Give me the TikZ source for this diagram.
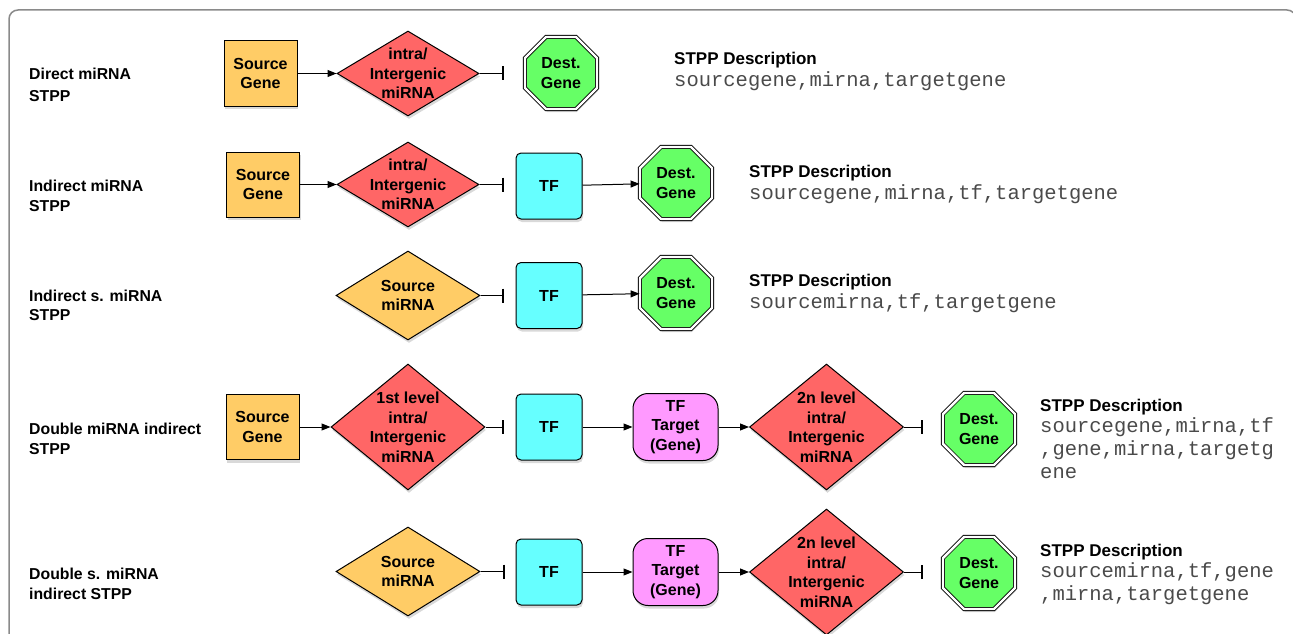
\documentclass[tikz,border=0pt]{standalone}
\usepackage{fontspec}
\setmainfont{Liberation Sans}
\setmonofont{Liberation Mono}
\usetikzlibrary{shapes.geometric,shadows,arrows.meta}
\definecolor{cgene}{HTML}{FFCC66}
\definecolor{cmir}{HTML}{FF6666}
\definecolor{cdest}{HTML}{66FF66}
\definecolor{ctf}{HTML}{66FFFF}
\definecolor{ctgt}{HTML}{FF99FF}
\definecolor{cmono}{HTML}{4A4A4A}
\definecolor{cframe}{HTML}{8A8A8A}
\begin{document}
\begin{tikzpicture}[x=1pt,y=-1pt,
  shade/.style={drop shadow={shadow xshift=1pt,shadow yshift=-3pt,opacity=0.3}},
  nodefont/.style={font=\fontsize{16}{19.5}\selectfont\bfseries,align=center},
  genebox/.style={draw,line width=1pt,fill=cgene,minimum width=73pt,minimum height=65pt,inner sep=0pt,shade,nodefont},
  mirna/.style={diamond,draw,line width=1pt,fill=cmir,inner sep=0pt,shade,minimum width=142pt,minimum height=85pt},
  bigmirna/.style={mirna,minimum width=154pt,minimum height=126pt},
  srcmirna/.style={mirna,fill=cgene,minimum width=144pt,minimum height=89pt},
  inlabel/.style={label={[nodefont]center:{#1}}},
  tfbox/.style={draw,line width=1pt,fill=ctf,rounded corners=5pt,minimum width=66pt,minimum height=66pt,inner sep=0pt,shade,nodefont},
  tgtbox/.style={draw,line width=1pt,fill=ctgt,rounded corners=15pt,minimum width=85pt,minimum height=67pt,inner sep=0pt,shade,nodefont},
  dest/.style={regular polygon,regular polygon sides=8,minimum size=78pt,inner sep=0pt,draw,line width=0.8pt,double=white,double distance=2.4pt,fill=cdest,shade,nodefont},
  arr/.style={-{Triangle[length=9pt,width=7pt]},line width=1pt},
  inh/.style={-{Bar[width=14pt,line width=1.6pt]},line width=1pt},
  rowlbl/.style={font=\fontsize{15.8}{20}\selectfont\bfseries,anchor=base west,inner sep=0pt},
  hdr/.style={font=\fontsize{17}{20}\selectfont\bfseries,anchor=base west,inner sep=0pt},
  mono/.style={font=\fontsize{20.5}{23}\ttfamily,text=cmono,anchor=base west,inner sep=0pt}
]
\useasboundingbox (0,0) rectangle (1293,634);
\clip (0,0) rectangle (1293,634);
\draw[cframe,line width=1.5pt,rounded corners=9pt] (9,10) rectangle (1296,700);

% Row 1
\node[rowlbl] (l1a) at (29,80) {Direct miRNA};
\node[rowlbl] (l1b) at (29,101) {STPP};
\node[genebox] (sg1) at (260.5,73.5) {Source\\Gene};
\node[mirna,inlabel={intra/\\Intergenic\\miRNA}] (d1) at (408,73.5) {};
\coordinate (b1) at (504,73.5);
\node[dest] (o1) at (561,73) {Dest.\\Gene};
\draw[arr] (sg1) -- (d1);
\draw[inh] (d1) -- (b1);
\node[hdr] (h1) at (674,65) {STPP Description};
\node[mono] (m1) at (674,87) {sourcegene,mirna,targetgene};

% Row 2
\node[rowlbl] (l2a) at (29,191) {Indirect miRNA};
\node[rowlbl] (l2b) at (29,211) {STPP};
\node[genebox] (sg2) at (263,184.5) {Source\\Gene};
\node[mirna,inlabel={intra/\\Intergenic\\miRNA}] (d2) at (408,184.5) {};
\coordinate (b2) at (504,184.5);
\node[tfbox] (tf2) at (549,186) {TF};
\node[dest] (o2) at (676,183) {Dest.\\Gene};
\draw[arr] (sg2) -- (d2);
\draw[inh] (d2) -- (b2);
\draw[arr] (tf2) -- (o2);
\node[hdr] (h2) at (749,177) {STPP Description};
\node[mono] (m2) at (749,199) {sourcegene,mirna,tf,targetgene};

% Row 3
\node[rowlbl] (l3a) at (29,301) {Indirect s. miRNA};
\node[rowlbl] (l3b) at (29,320) {STPP};
\node[srcmirna,inlabel={Source\\miRNA}] (d3) at (408,295.5) {};
\coordinate (b3) at (504,295.5);
\node[tfbox] (tf3) at (549,295.5) {TF};
\node[dest] (o3) at (676,293) {Dest.\\Gene};
\draw[inh] (d3) -- (b3);
\draw[arr] (tf3) -- (o3);
\node[hdr] (h3) at (749,286) {STPP Description};
\node[mono] (m3) at (749,308) {sourcemirna,tf,targetgene};

% Row 4
\node[rowlbl] (l4a) at (29,434) {Double miRNA indirect};
\node[rowlbl] (l4b) at (29,454) {STPP};
\node[genebox] (sg4) at (262.5,427) {Source\\Gene};
\node[bigmirna,inlabel={1st level\\intra/\\Intergenic\\miRNA}] (d4) at (408,427) {};
\coordinate (b4) at (504,427);
\node[tfbox] (tf4) at (549,427) {TF};
\node[tgtbox] (tg4) at (675.5,427) {TF\\Target\\(Gene)};
\node[bigmirna,inlabel={2n level\\intra/\\Intergenic\\miRNA}] (e4) at (826.5,427) {};
\coordinate (c4) at (923,427);
\node[dest] (o4) at (979,429) {Dest.\\Gene};
\draw[arr] (sg4) -- (d4);
\draw[inh] (d4) -- (b4);
\draw[arr] (tf4) -- (tg4);
\draw[arr] (tg4) -- (e4);
\draw[inh] (e4) -- (c4);
\node[hdr] (h4) at (1040,411) {STPP Description};
\node[mono] (m4a) at (1040,432) {sourcegene,mirna,tf};
\node[mono] (m4b) at (1040,455) {,gene,mirna,targetg};
\node[mono] (m4c) at (1040,478) {ene};

% Row 5
\node[rowlbl] (l5a) at (29,579) {Double s. miRNA};
\node[rowlbl] (l5b) at (29,599) {indirect STPP};
\node[srcmirna,inlabel={Source\\miRNA}] (d5) at (408,571.5) {};
\coordinate (b5) at (505,571.5);
\node[tfbox] (tf5) at (549,572) {TF};
\node[tgtbox] (tg5) at (675.5,572) {TF\\Target\\(Gene)};
\node[bigmirna,inlabel={2n level\\intra/\\Intergenic\\miRNA}] (e5) at (826.5,572) {};
\coordinate (c5) at (923,572);
\node[dest] (o5) at (979,573) {Dest.\\Gene};
\draw[inh] (d5) -- (b5);
\draw[arr] (tf5) -- (tg5);
\draw[arr] (tg5) -- (e5);
\draw[inh] (e5) -- (c5);
\node[hdr] (h5) at (1040,556) {STPP Description};
\node[mono] (m5a) at (1040,577) {sourcemirna,tf,gene};
\node[mono] (m5b) at (1040,600) {,mirna,targetgene};
\end{tikzpicture}
\end{document}
